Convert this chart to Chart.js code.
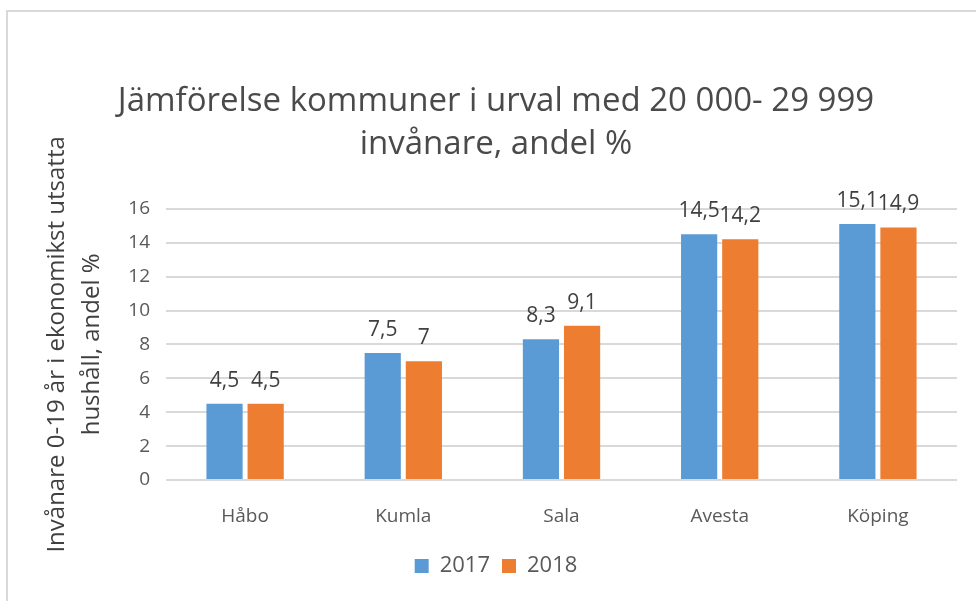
<!DOCTYPE HTML>
<html>
<head>
<meta charset="utf-8">
<script src="https://cdn.jsdelivr.net/npm/chart.js@4.4.1/dist/chart.umd.min.js"></script>
<style>
html, body { margin: 0; padding: 0; background: #fff; }
#frame {
  position: absolute; left: 6px; top: 10px; width: 1000px; height: 620px;
  border-left: 2px solid #d9d9d9; border-top: 2px solid #d9d9d9;
}
#wrap { position: absolute; left: 0; top: 0; width: 976px; height: 601px; }
</style>
</head>
<body>
<div id="frame"></div>
<div id="wrap"><canvas id="myChart"></canvas></div>
<script>

// values
var kommuner = ['Håbo', 'Kumla', 'Sala', 'Avesta', 'Köping'];
var ar2017 = [4.5, 7.5, 8.3, 14.5, 15.1];
var ar2018 = [4.5, 7, 9.1, 14.2, 14.9];
var yTicks = [0, 2, 4, 6, 8, 10, 12, 14, 16];

var textColor = '#595959';

// labels over every bar, Swedish decimal comma
var valueLabels = {
  id: 'valueLabels',
  afterDatasetsDraw: function(chart) {
    var ctx = chart.ctx;
    ctx.save();
    ctx.font = '21px "Open Sans"';
    ctx.fillStyle = '#404040';
    ctx.textAlign = 'center';
    ctx.textBaseline = 'alphabetic';
    chart.data.datasets.forEach(function(ds, i) {
      chart.getDatasetMeta(i).data.forEach(function(bar, j) {
        ctx.fillText(String(ds.data[j]).replace('.', ','), bar.x, bar.y - 17);
      });
    });
    ctx.restore();
  }
};

var ctx = document.getElementById('myChart').getContext('2d');
var myChart = new Chart(ctx, {
  type: 'bar',
  data: {
    labels: kommuner,
    datasets: [
      { label: '2017', data: ar2017, backgroundColor: '#5b9bd5', borderWidth: 0,
        categoryPercentage: 0.52, barPercentage: 0.88 },
      { label: '2018', data: ar2018, backgroundColor: '#ed7d31', borderWidth: 0,
        categoryPercentage: 0.52, barPercentage: 0.88 }
    ]
  },
  options: {
    responsive: true,
    maintainAspectRatio: false,
    animation: false,
    layout: { padding: { left: 35, right: 19, top: 0, bottom: 14 } },
    plugins: {
      title: {
        display: true,
        text: ['Jämförelse kommuner i urval med 20 000- 29 999', 'invånare, andel %'],
        color: '#4a4a4a',
        font: { family: 'Open Sans', size: 33, weight: 'normal', lineHeight: 1.3 },
        padding: { top: 80, bottom: 43 }
      },
      legend: {
        position: 'bottom',
        labels: {
          color: textColor,
          font: { family: 'Open Sans', size: 22 },
          boxWidth: 14, boxHeight: 14, padding: 12
        }
      },
      tooltip: { enabled: false }
    },
    scales: {
      x: {
        grid: { display: false, drawTicks: false },
        border: { display: false },
        ticks: { color: textColor, font: { family: 'Open Sans', size: 19 }, padding: 25 },
        afterFit: function(scale) { scale.height = 63; }
      },
      y: {
        min: 0, max: 16,
        afterBuildTicks: function(scale) {
          scale.ticks = yTicks.map(function(v) { return { value: v }; });
        },
        grid: { color: '#d9d9d9', lineWidth: 2, drawTicks: false },
        border: { display: false },
        ticks: { color: textColor, font: { family: 'Open Sans', size: 19 }, padding: 16 },
        title: {
          display: true,
          text: ['Invånare 0-19 år i ekonomikst utsatta', 'hushåll, andel %'],
          color: '#404040',
          font: { family: 'Open Sans', size: 24, lineHeight: 1.46 },
          padding: { top: 5, bottom: 0 }
        },
        afterFit: function(scale) { scale.width = 131; }
      }
    }
  },
  plugins: [valueLabels]
});

</script>
</body>
</html>
